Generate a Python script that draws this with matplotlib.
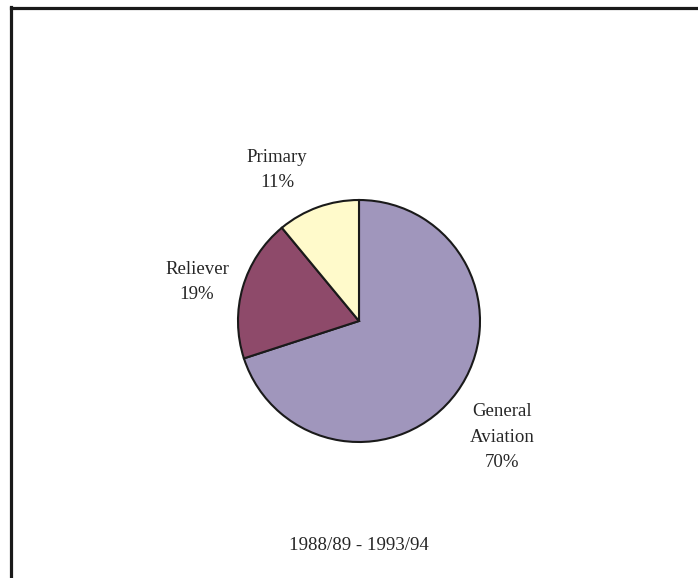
import matplotlib
matplotlib.use("Agg")
import matplotlib.pyplot as plt
from matplotlib.lines import Line2D

categories = ["General\nAviation", "Reliever", "Primary"]
values = [70, 19, 11]
colors = ["#A096BC", "#8E4A6A", "#FFFACB"]
subtitle = "1988/89 - 1993/94"

W, H = 698, 578
fig = plt.figure(figsize=(W / 100, H / 100), dpi=100)
ax = fig.add_axes([0, 0, 1, 1])

cx, cy, r = 359, H - 321, 121
wedges, _ = ax.pie(values, colors=colors, startangle=90, counterclock=False,
                   center=(cx, cy), radius=r, frame=True,
                   wedgeprops=dict(edgecolor="#1a1a1a", linewidth=1.5))
ax.set_xlim(0, W)
ax.set_ylim(0, H)
ax.set_aspect("equal")
ax.axis("off")

font = dict(family="Liberation Serif", fontsize=13.6, color="#262626",
            ha="center", va="center", linespacing=1.62)
label_pos = [(502, 437), (197, 282), (277, 170)]
for (lx, ly), name, v in zip(label_pos, categories, values):
    ax.text(lx, H - ly, f"{name}\n{v}%", **font)

ax.text(359, H - 545, subtitle, **font)

# frame (top and left border)
fig.add_artist(Line2D([11.5 / W, 11.5 / W], [0, 1 - 7 / H],
                      transform=fig.transFigure, color="#1a1a1a", linewidth=2.3,
                      solid_capstyle="projecting"))
fig.add_artist(Line2D([11.5 / W, 1], [1 - 7.5 / H, 1 - 7.5 / H],
                      transform=fig.transFigure, color="#1a1a1a", linewidth=2.3,
                      solid_capstyle="projecting"))

fig.savefig("out.png", dpi=100, facecolor="white")
